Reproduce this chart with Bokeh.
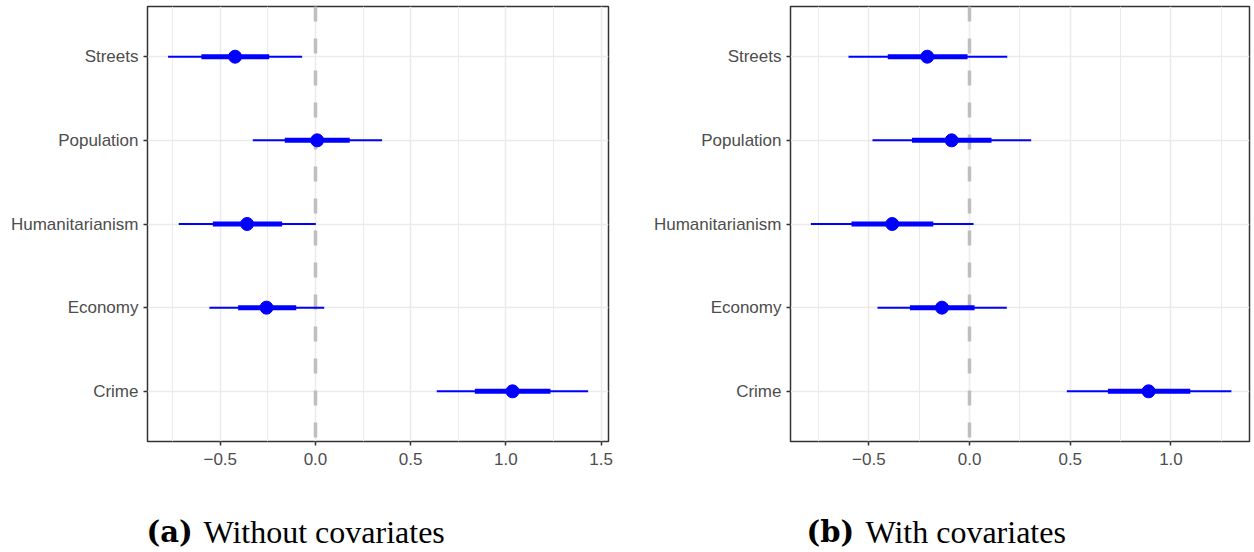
from bokeh.plotting import figure
from bokeh.models import FactorRange, Range1d, FixedTicker, CustomJSTickFormatter, Label, ColumnDataSource
from bokeh.layouts import row, column
from bokeh.embed import file_html
from bokeh.resources import INLINE

categories = ["Streets", "Population", "Humanitarianism", "Economy", "Crime"]

# (a) Without covariates
a_est = [-0.422, 0.009, -0.359, -0.257, 1.035]
a_lo95 = [-0.774, -0.329, -0.718, -0.557, 0.637]
a_hi95 = [-0.070, 0.350, 0.002, 0.046, 1.432]
a_lo_in = [-0.599, -0.161, -0.539, -0.406, 0.837]
a_hi_in = [-0.243, 0.180, -0.175, -0.101, 1.234]

# (b) With covariates
b_est = [-0.210, -0.089, -0.384, -0.137, 0.889]
b_lo95 = [-0.601, -0.482, -0.788, -0.457, 0.483]
b_hi95 = [0.187, 0.306, 0.020, 0.185, 1.300]
b_lo_in = [-0.406, -0.286, -0.586, -0.296, 0.687]
b_hi_in = [-0.010, 0.109, -0.180, 0.025, 1.096]

a_ticks = [-0.5, 0.0, 0.5, 1.0, 1.5]
a_minor = [-0.75, -0.25, 0.25, 0.75, 1.25]
b_ticks = [-0.5, 0.0, 0.5, 1.0]
b_minor = [-0.75, -0.25, 0.25, 0.75, 1.25]

caption_tags = ["(a)", "(b)"]
caption_texts = ["Without covariates", "With covariates"]

BLUE = "#0000FF"
GRID = "#EBEBEB"


def make_panel(est, lo, hi, ilo, ihi, xr, ticks, minor, width, mbl, mbr):
    src = ColumnDataSource(dict(cat=categories, est=est, lo=lo, hi=hi, ilo=ilo, ihi=ihi))
    yr = FactorRange(factors=list(reversed(categories)), range_padding=0.1,
                     range_padding_units="absolute")
    p = figure(width=width, height=480, y_range=yr, x_range=Range1d(*xr),
               output_backend="svg", toolbar_location=None,
               min_border_left=mbl, min_border_right=mbr, min_border_top=6,
               min_border_bottom=39)
    p.background_fill_color = "white"
    p.border_fill_color = "white"
    p.outline_line_color = "#333333"
    p.outline_line_width = 1.5

    p.xaxis.ticker = FixedTicker(ticks=ticks, minor_ticks=minor)
    p.xaxis.formatter = CustomJSTickFormatter(
        code="return tick.toFixed(1).replace('-', '\u2212');")
    for ax in (p.xaxis[0], p.yaxis[0]):
        ax.axis_line_color = None
        ax.major_tick_line_color = "#333333"
        ax.major_tick_line_width = 1.5
        ax.major_tick_out = 4
        ax.major_tick_in = 0
        ax.minor_tick_line_color = None
        ax.major_label_text_font = "Liberation Sans"
        ax.major_label_text_font_size = "17px"
        ax.major_label_text_color = "#4D4D4D"
    p.yaxis.major_label_standoff = 5
    p.xaxis.major_label_standoff = 7

    p.xgrid.grid_line_color = GRID
    p.xgrid.grid_line_width = 1.5
    p.xgrid.minor_grid_line_color = GRID
    p.xgrid.minor_grid_line_width = 1
    p.ygrid.grid_line_color = GRID
    p.ygrid.grid_line_width = 1.5

    p.vspan(x=[0], line_color="#BEBEBE", line_width=3.5, line_dash="15 17")

    p.segment(x0="lo", y0="cat", x1="hi", y1="cat", source=src,
              line_color=BLUE, line_width=2)
    p.segment(x0="ilo", y0="cat", x1="ihi", y1="cat", source=src,
              line_color=BLUE, line_width=5)
    p.scatter(x="est", y="cat", source=src, size=13, fill_color=BLUE,
              line_color=BLUE)
    return p


p1 = make_panel(a_est, a_lo95, a_hi95, a_lo_in, a_hi_in, (-0.882, 1.539),
                a_ticks, a_minor, 620, 147, 12)
p2 = make_panel(b_est, b_lo95, b_hi95, b_lo_in, b_hi_in, (-0.889, 1.390),
                b_ticks, b_minor, 634, 170, 5)

cap = figure(width=1254, height=72, x_range=Range1d(0, 1254), y_range=Range1d(0, 72),
             output_backend="svg", toolbar_location=None,
             x_axis_type=None, y_axis_type=None,
             min_border_left=0, min_border_right=0, min_border_top=0, min_border_bottom=0)
cap.outline_line_color = None
cap.grid.visible = False
cap.background_fill_color = "white"
cap.border_fill_color = "white"

tag_x = [146, 806]
text_x = [203, 865]
for tx, cx, tag, txt in zip(tag_x, text_x, caption_tags, caption_texts):
    cap.add_layout(Label(x=tx, y=21, text=tag, text_font="DejaVu Serif",
                         text_font_style="bold", text_font_size="29px",
                         text_baseline="alphabetic", text_color="black"))
    cap.add_layout(Label(x=cx, y=21, text=txt, text_font="Liberation Serif",
                         text_font_size="32px",
                         text_baseline="alphabetic", text_color="black"))

layout = column(row(p1, p2), cap)
open("out.html", "w").write(file_html(layout, INLINE))
